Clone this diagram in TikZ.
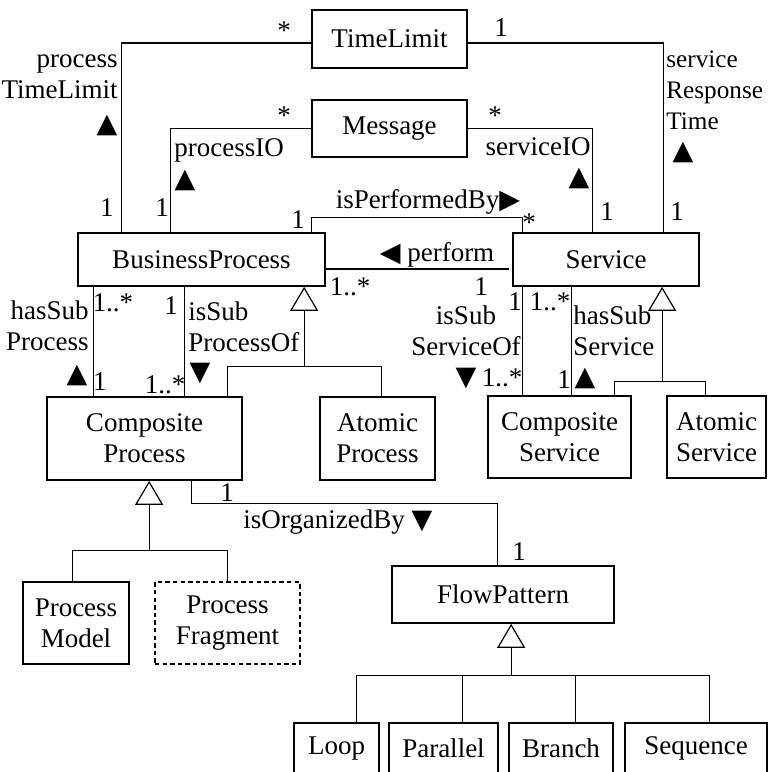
\documentclass[tikz,border=0pt]{standalone}
\usepackage{fontspec}
\setmainfont{Liberation Serif}
\newfontfamily\symfont{DejaVu Sans}
\usetikzlibrary{calc,arrows.meta}

\newcommand{\trup}{{\symfont ▲}}
\newcommand{\trdown}{{\symfont ▼}}
\newcommand{\trleft}{{\symfont ◀}}
\newcommand{\trright}{{\symfont ▶}}

\begin{document}
\begin{tikzpicture}[x=0.5pt,y=-0.5pt,
  font=\fontsize{13.5}{15.5}\selectfont,
  cls/.style={draw,line width=0.85pt,inner sep=0pt,align=center},
  conn/.style={line width=0.6pt},
  gen/.style={conn,-{Triangle[open,length=12pt,width=14pt]}},
  lbl/.style={inner sep=0pt}]
\useasboundingbox (0,0) rectangle (768,772);
\clip (0,0) rectangle (768,772);

% classes
\node[cls,minimum width=77.5pt,minimum height=29pt] (tl) at (389.5,39) {TimeLimit};
\node[cls,minimum width=77.5pt,minimum height=28.5pt] (msg) at (389.5,128.5) {Message};
\node[cls,minimum width=123.5pt,minimum height=26.5pt] (bp) at (201.5,259.5) {BusinessProcess};
\node[cls,minimum width=93pt,minimum height=26.5pt] (srv) at (606,259.5) {Service};
\node[cls,minimum width=97.5pt,minimum height=41.5pt] (cp) at (144.5,438.5) {Composite\\Process};
\node[cls,minimum width=57.5pt,minimum height=41.5pt] (ap) at (377.5,438.5) {Atomic\\Process};
\node[cls,minimum width=71.5pt,minimum height=41pt] (cs) at (559.5,437) {Composite\\Service};
\node[cls,minimum width=49.5pt,minimum height=41pt] (as) at (716.5,437) {Atomic\\Service};
\node[cls,minimum width=53pt,minimum height=41pt] (pm) at (76,623) {Process\\Model};
\node[cls,dash pattern=on 2.2pt off 1.6pt,minimum width=72.5pt,minimum height=41pt] (pf) at (227.5,623) {Process\\Fragment};
\node[cls,minimum width=111pt,minimum height=28.5pt] (fp) at (503,594.5) {FlowPattern};
\node[cls,minimum width=42.5pt,minimum height=26pt] (loop) at (336.5,748.7) {Loop};
\node[cls,minimum width=54.5pt,minimum height=26pt] (par) at (443.5,748.7) {Parallel};
\node[cls,minimum width=52pt,minimum height=26pt] (br) at (561,748.7) {Branch};
\node[cls,minimum width=71pt,minimum height=26pt] (seq) at (696,748.7) {Sequence};

% associations
\draw[conn] ($(tl.west)+(0,4)$) -| ($(bp.north west)+(44,0)$);
\draw[conn] ($(tl.east)+(0,4)$) -| ($(srv.north west)+(151,0)$);
\draw[conn] (msg.west) -| ($(bp.north west)+(93,0)$);
\draw[conn] (msg.east) -| ($(srv.north west)+(80,0)$);
\draw[conn] ($(bp.north west)+(234,0)$) -- ++(0,-15) -| ($(srv.north west)+(10,0)$);
\draw[conn] ($(bp.east)+(0,9.5)$) -- ($(srv.west)+(-3,9.5)$);
\draw[conn] ($(bp.south west)+(16,0)$) coordinate (hsp) -- (hsp |- cp.north);
\draw[conn] ($(bp.south west)+(107,0)$) coordinate (isp) -- (isp |- cp.north);
\draw[conn] ($(srv.south west)+(10,0)$) coordinate (iss) -- (iss |- cs.north);
\draw[conn] ($(srv.south west)+(59,0)$) coordinate (hss) -- (hss |- cs.north);
\draw[conn] ($(cp.south west)+(145,0)$) -- ++(0,23) -| ($(fp.north west)+(106,0)$);

% generalizations
\coordinate (bpg) at ($(bp.south west)+(227,0)$);
\draw[conn] ($(cp.north west)+(181,0)$) -- ++(0,-30) coordinate (gp) -| ($(ap.north west)+(62,0)$);
\draw[gen] (gp -| bpg) -- (bpg);
\coordinate (srvg) at ($(srv.south west)+(150,0)$);
\draw[conn] ($(cs.north west)+(127,0)$) -- ++(0,-14) coordinate (gs) -| ($(as.north west)+(39,0)$);
\draw[gen] (gs -| srvg) -- (srvg);
\coordinate (cpg) at ($(cp.south west)+(103,0)$);
\draw[conn] ($(pm.north west)+(50,0)$) -- ++(0,-31) coordinate (gc) -| ($(pf.north west)+(73,0)$);
\draw[gen] (gc -| cpg) -- (cpg);
\coordinate (fpg) at ($(fp.south west)+(120,0)$);
\draw[conn] ($(loop.north west)+(63,0)$) -- ++(0,-46) coordinate (gf) -| ($(seq.north west)+(85,0)$);
\draw[conn] ($(par.north west)+(74,0)$) coordinate (pc) -- (pc |- gf);
\draw[conn] ($(br.north west)+(67,0)$) coordinate (bc) -- (bc |- gf);
\draw[gen] (gf -| fpg) -- (fpg);

% labels
\node[lbl] (m1) at (284,31) {*};
\node[lbl,anchor=east,align=right] (r1) at (118,77) {process\\TimeLimit};
\node[lbl] (t1) at (107,125) {\trup};
\node[lbl] (m2) at (107,208) {1};
\node[lbl] (m3) at (284,116) {*};
\node[lbl,anchor=west] (r2) at (174,150) {processIO};
\node[lbl] (t2) at (185,180) {\trup};
\node[lbl] (m4) at (162,208) {1};
\node[lbl] (m5) at (501,28) {1};
\node[lbl,anchor=west,align=left,font=\fontsize{12.6}{15.5}\selectfont] (r3) at (666,90) {service\\Response\\Time};
\node[lbl] (t3) at (683,152) {\trup};
\node[lbl] (m6) at (677,212) {1};
\node[lbl] (m7) at (495,116) {*};
\node[lbl,anchor=east] (r4) at (591,147) {serviceIO};
\node[lbl] (t4) at (579,178) {\trup};
\node[lbl] (m8) at (607,212) {1};
\node[lbl] (r5) at (428,202) {isPerformedBy\trright};
\node[lbl] (m9) at (298,220) {1};
\node[lbl] (m10) at (529,223) {*};
\node[lbl] (r6) at (437,255) {\trleft\ perform};
\node[lbl] (m11) at (350,287) {1..*};
\node[lbl] (m12) at (481,287) {1};
\node[lbl] (m13) at (113,303) {1..*};
\node[lbl,anchor=east,align=right] (r7) at (89,326) {hasSub\\Process};
\node[lbl] (t5) at (77,375) {\trup};
\node[lbl] (m14) at (100,382) {1};
\node[lbl] (m15) at (171,306) {1};
\node[lbl,anchor=west,align=left] (r8) at (188,327) {isSub\\ProcessOf};
\node[lbl] (t6) at (200,373) {\trdown};
\node[lbl] (m16) at (165,385) {1..*};
\node[lbl] (m17) at (515,302) {1};
\node[lbl,align=center] (r9) at (466,331) {isSub\\ServiceOf};
\node[lbl] (t7) at (466,378) {\trdown};
\node[lbl] (m18) at (502,378) {1..*};
\node[lbl] (m19) at (550,302) {1..*};
\node[lbl,anchor=west,align=left] (r10) at (573,331) {hasSub\\Service};
\node[lbl] (m20) at (564,380) {1};
\node[lbl] (t8) at (585,378) {\trup};
\node[lbl] (m21) at (227,493) {1};
\node[lbl,anchor=west] (r11) at (243,522) {isOrganizedBy \trdown};
\node[lbl] (m22) at (519,552) {1};
\end{tikzpicture}
\end{document}
